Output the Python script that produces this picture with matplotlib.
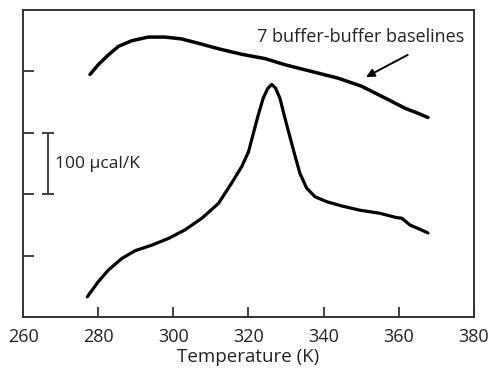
import numpy as np
import matplotlib
matplotlib.use('Agg')
import matplotlib.pyplot as plt

plt.rcParams['font.family'] = ['Open Sans', 'DejaVu Sans']

# sample scan (heat capacity, arbitrary offset units, 1 unit = 100 ucal/K)
sample_T = [277.1, 277.8, 280.0, 282.7, 286.3, 289.8, 294.2, 298.7, 303.1, 307.6,
            312.0, 315.5, 318.2, 320.0, 321.3, 322.6, 323.9, 325.1, 326.2, 327.2,
            328.4, 329.5, 330.8, 332.2, 333.7, 335.5, 337.7, 340.8, 344.8, 349.7,
            355.0, 359.4, 360.8, 363.0, 365.6, 367.8]
sample_cp = [0.33, 0.39, 0.575, 0.765, 0.955, 1.08, 1.17, 1.28, 1.42, 1.61,
             1.85, 2.18, 2.45, 2.69, 2.99, 3.29, 3.56, 3.72, 3.79, 3.73,
             3.56, 3.29, 2.99, 2.67, 2.34, 2.10, 1.96, 1.88, 1.81, 1.74,
             1.69, 1.62, 1.61, 1.50, 1.43, 1.37]

# buffer-buffer baselines
base_T = [277.8, 280.0, 282.7, 285.4, 288.9, 293.3, 297.8, 302.2, 306.6, 312.0,
          318.2, 324.4, 329.7, 336.8, 343.9, 350.1, 356.3, 361.7, 365.1, 367.8]
base_cp = [3.95, 4.11, 4.27, 4.41, 4.50, 4.56, 4.56, 4.53, 4.46, 4.37,
           4.28, 4.21, 4.11, 4.00, 3.89, 3.76, 3.57, 3.40, 3.32, 3.25]

xticks = [260, 280, 300, 320, 340, 360, 380]
yticks = [1, 2, 3, 4]

fig = plt.figure(figsize=(4.92, 3.73), dpi=100)
ax = fig.add_axes([0.047, 0.150, 0.916, 0.823])

ax.plot(sample_T, sample_cp, '-', color='black', lw=2.3,
        solid_capstyle='round', solid_joinstyle='round')
ax.plot(base_T, base_cp, '-', color='black', lw=2.5,
        solid_capstyle='round', solid_joinstyle='round')

# scale bar
ax.errorbar(266.5, 2.5, yerr=0.5, color='#333333', lw=1.3, capsize=4, capthick=1.3)
ax.text(268.4, 2.5, '100 \u00b5cal/K', fontsize=12.5, va='center', ha='left', color='#222222')

ax.text(349.9, 4.41, '7 buffer-buffer baselines', fontsize=13, ha='center', va='bottom',
        color='#222222')
ax.annotate('', xy=(351.3, 3.91), xytext=(362.4, 4.27),
            arrowprops=dict(arrowstyle='-|>', color='black', lw=1.4, shrinkA=0, shrinkB=0,
                            mutation_scale=12))

ax.set_xlim(260, 380)
ax.set_ylim(0, 5)
ax.set_xticks(xticks)
ax.set_yticks(yticks)
ax.set_yticklabels([])
ax.tick_params(axis='x', direction='in', length=7, width=1.3, labelsize=13, color='#333333',
               labelcolor='#222222', pad=8)
ax.tick_params(axis='y', direction='in', length=8, width=1.3, color='#333333')
for s in ax.spines.values():
    s.set_linewidth(1.4)
    s.set_color('#333333')
ax.set_xlabel('Temperature (K)', fontsize=13.5, labelpad=1, color='#222222')

fig.savefig('out.png', dpi=100)
